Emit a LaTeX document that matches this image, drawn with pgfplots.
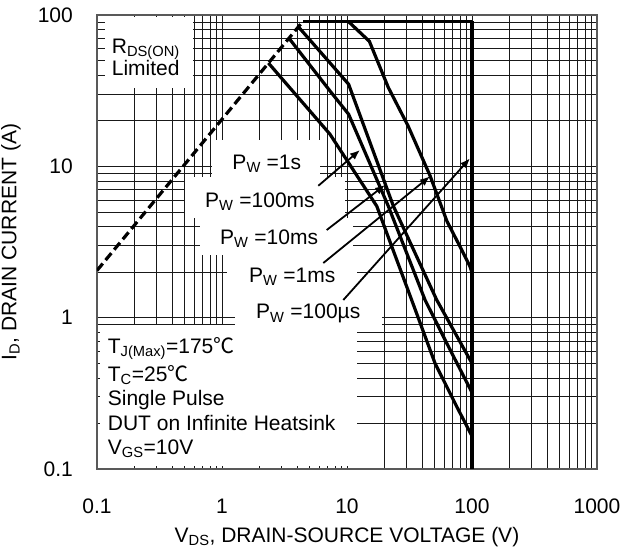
\documentclass[border=0pt]{standalone}
\usepackage{fontspec}
\setmainfont{Liberation Sans}
\newfontfamily\cjk{Noto Sans CJK SC}
\usepackage{pgfplots}
\pgfplotsset{compat=1.18}
\usetikzlibrary{arrows.meta}

\begin{document}
\fontsize{21bp}{25bp}\selectfont
\begin{tikzpicture}
\useasboundingbox (-97bp,-81bp) rectangle (543bp,469bp);
\begin{axis}[
  at={(0,0)}, anchor=south west,
  width=500bp, height=454bp, scale only axis,
  xmode=log, ymode=log,
  xmin=0.1, xmax=1000, ymin=0.1, ymax=100,
  xtick={0.1,1,10,100,1000}, xticklabels={0.1,1,10,100,1000},
  ytick={0.1,1,10,100}, yticklabels={0.1,1,10,100},
  minor xtick={0.2,0.3,0.4,0.5,0.6,0.7,0.8,0.9,2,3,4,5,6,7,8,9,20,30,40,50,60,70,80,90,200,300,400,500,600,700,800,900},
  minor ytick={0.2,0.3,0.4,0.5,0.6,0.7,0.8,0.9,2,3,4,5,6,7,8,9,20,30,40,50,60,70,80,90},
  grid=both,
  major grid style={black!90, line width=0.75bp},
  minor grid style={black!90, line width=0.75bp},
  tick style={draw=none},
  axis line style={black!65, line width=1.6bp},
  xticklabel style={anchor=base, inner sep=0pt, yshift=-44bp},
  yticklabel style={anchor=east, inner sep=0pt, xshift=-24bp},
  xlabel={V\textsubscript{DS}, DRAIN-SOURCE VOLTAGE (V)},
  ylabel={I\textsubscript{D}, DRAIN CURRENT (A)},
  xlabel style={at={(axis description cs:0.5,-0.162)}, anchor=base, inner sep=0pt},
  ylabel style={at={(axis description cs:-0.172,0.5)}, anchor=center, inner sep=0pt},
]
% white label boxes over the grid
\fill[white] (axis description cs:0.016,0.839) rectangle (axis description cs:0.192,0.995);
\fill[white] (axis description cs:0.23,0.643) rectangle (axis description cs:0.446,0.7247);
\fill[white] (axis description cs:0.176,0.5529) rectangle (axis description cs:0.496,0.643);
\fill[white] (axis description cs:0.206,0.4714) rectangle (axis description cs:0.512,0.5529);
\fill[white] (axis description cs:0.26,0.3899) rectangle (axis description cs:0.52,0.4714);
\fill[white] (axis description cs:0.276,0.3062) rectangle (axis description cs:0.57,0.3899);
\fill[white] (axis description cs:0.006,0.0066) rectangle (axis description cs:0.52,0.3172);

% RDS(on) limit
\addplot[black, line width=3.2bp, dash pattern=on 9bp off 4.5bp] coordinates {(0.1,2.05) (4.45,91)};
% 100us
\addplot[black, line width=3.2bp] coordinates {(4.45,91) (100,91)};
\addplot[black, line width=4.2bp] coordinates {(100,91) (100,0.1)};
% 1s
\addplot[black, line width=3.2bp] coordinates {
  (2.35,48.2) (7.31,16.3) (17.3,5.46) (32.9,1.31) (50.6,0.50) (75.4,0.259) (100,0.165)};
% 100ms
\addplot[black, line width=3.2bp] coordinates {
  (3.43,70.3) (7.31,31.5) (10.3,22.1) (21.4,5.46) (42.1,1.31) (62.7,0.68) (100,0.32)};
% 10ms
\addplot[black, line width=3.2bp] coordinates {
  (4.08,83.6) (10.3,34.9) (23.5,5.46) (52.2,1.31) (96.4,0.527) (100,0.50)};
% 1ms
\addplot[black, line width=3.2bp] coordinates {
  (10.2,91) (15.1,67) (21.4,33.2) (30.8,18.5) (46.1,8.7) (63.1,4.33) (80.2,2.95) (96.4,2.18) (100,1.98)};

% arrows
\draw[line width=1.8bp, -{Latex[length=10bp,width=8bp]}] (axis description cs:0.4426,0.6238) -- (axis description cs:0.526,0.7026);
\draw[line width=1.8bp, -{Latex[length=10bp,width=8bp]}] (axis description cs:0.4594,0.5264) -- (axis description cs:0.576,0.6256);
\draw[line width=1.8bp, -{Latex[length=10bp,width=8bp]}] (axis description cs:0.4526,0.4537) -- (axis description cs:0.666,0.6446);
\draw[line width=1.8bp, -{Latex[length=10bp,width=8bp]}] (axis description cs:0.4926,0.3722) -- (axis description cs:0.746,0.6843);

% labels
\node[anchor=base west, inner sep=0pt] at (axis description cs:0.0294,0.9156) {R\textsubscript{DS(ON)}};
\node[anchor=base west, inner sep=0pt] at (axis description cs:0.0294,0.8678) {Limited};
\node[anchor=base west, inner sep=0pt] at (axis description cs:0.2706,0.6601) {P\textsubscript{W} =1s};
\node[anchor=base west, inner sep=0pt] at (axis description cs:0.216,0.5764) {P\textsubscript{W} =100ms};
\node[anchor=base west, inner sep=0pt] at (axis description cs:0.246,0.4949) {P\textsubscript{W} =10ms};
\node[anchor=base west, inner sep=0pt] at (axis description cs:0.304,0.4112) {P\textsubscript{W} =1ms};
\node[anchor=base west, inner sep=0pt] at (axis description cs:0.318,0.3304) {P\textsubscript{W} =100µs};
\node[anchor=base west, inner sep=0pt] at (axis description cs:0.0214,0.2555) {T\textsubscript{J(Max)}=175{\cjk ℃}};
\node[anchor=base west, inner sep=0pt] at (axis description cs:0.0214,0.1923) {T\textsubscript{C}=25{\cjk ℃}};
\node[anchor=base west, inner sep=0pt] at (axis description cs:0.0214,0.1388) {Single Pulse};
\node[anchor=base west, inner sep=0pt] at (axis description cs:0.0214,0.0859) {DUT on Infinite Heatsink};
\node[anchor=base west, inner sep=0pt] at (axis description cs:0.0214,0.033) {V\textsubscript{GS}=10V};
\end{axis}
\end{tikzpicture}
\end{document}
